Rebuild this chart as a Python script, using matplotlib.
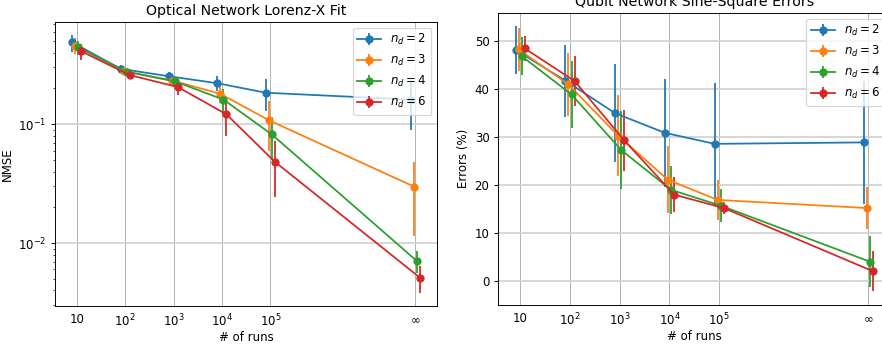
import numpy as np
import matplotlib
matplotlib.use('Agg')
import matplotlib.pyplot as plt

# Nombre de runs (l'infini est placé à 1e8 sur l'axe)
runs = np.array([10, 100, 1000, 1e4, 1e5, 1e8])
tick_labels = ['10', '$10^2$', '$10^3$', '$10^4$', '$10^5$', r'$\infty$']
n_d = [2, 3, 4, 6]

# NMSE - Optical Network Lorenz-X Fit
nmse_nd2 = [0.487, 0.292, 0.253, 0.221, 0.184, 0.161]
nmse_nd3 = [0.458, 0.280, 0.233, 0.180, 0.108, 0.0299]
nmse_nd4 = [0.443, 0.276, 0.229, 0.161, 0.082, 0.00706]
nmse_nd6 = [0.410, 0.259, 0.205, 0.121, 0.0483, 0.00512]
nmse_err_nd2 = [0.08, 0.024, 0.02, 0.032, 0.055, 0.071]
nmse_err_nd3 = [0.07, 0.02, 0.015, 0.03, 0.048, 0.0185]
nmse_err_nd4 = [0.06, 0.02, 0.015, 0.038, 0.032, 0.0015]
nmse_err_nd6 = [0.06, 0.015, 0.03, 0.042, 0.024, 0.0013]

# Erreurs (%) - Qubit Network Sine-Square
err_nd2 = [48.2, 41.8, 35.0, 30.9, 28.6, 28.9]
err_nd3 = [48.3, 41.0, 30.3, 21.1, 16.9, 15.2]
err_nd4 = [46.9, 38.9, 27.3, 19.0, 15.7, 4.0]
err_nd6 = [48.5, 41.7, 29.3, 18.0, 15.2, 2.0]
err_std_nd2 = [5.0, 7.5, 10.2, 11.3, 12.7, 12.9]
err_std_nd3 = [4.4, 6.6, 8.5, 7.0, 4.1, 4.4]
err_std_nd4 = [4.0, 7.0, 8.2, 5.0, 3.5, 5.3]
err_std_nd6 = [2.7, 5.2, 6.4, 3.6, 1.3, 4.2]

nmse = [nmse_nd2, nmse_nd3, nmse_nd4, nmse_nd6]
nmse_err = [nmse_err_nd2, nmse_err_nd3, nmse_err_nd4, nmse_err_nd6]
errs = [err_nd2, err_nd3, err_nd4, err_nd6]
errs_std = [err_std_nd2, err_std_nd3, err_std_nd4, err_std_nd6]

W, H, DPI = 882, 345, 85
fig = plt.figure(figsize=(W / DPI, H / DPI), dpi=DPI)

# Axes placées en pixels (la figure d'origine est recadrée à droite)
ax1 = fig.add_axes([55 / W, (H - 305.7) / H, (437.3 - 55) / W, (305.7 - 21.7) / H])
ax2 = fig.add_axes([497.7 / W, (H - 304.7) / H, (891 - 497.7) / W, (304.7 - 12.7) / H])

# Petit décalage horizontal entre les séries
shifts = 10 ** (0.062 * (np.arange(len(n_d)) - 1.5))


def style_axis(ax):
    ax.set_xscale('log')
    ax.set_xticks(runs)
    ax.set_xticklabels(tick_labels)
    ax.xaxis.set_minor_locator(matplotlib.ticker.NullLocator())
    ax.tick_params(axis='x', length=0, pad=6)
    ax.grid(True, axis='x', color='#b0b0b0', lw=0.8)
    ax.grid(True, axis='y', color='#d3d3d3', lw=1.5)
    ax.set_xlabel('# of runs', labelpad=1.5)
    ax.legend(loc='upper right')


for i, nd in enumerate(n_d):
    ax1.errorbar(runs * shifts[i], nmse[i], yerr=nmse_err[i], fmt='-o', label=f'$n_d = {nd}$')
    ax2.errorbar(runs * shifts[i], errs[i], yerr=errs_std[i], fmt='-o', label=f'$n_d = {nd}$')

ax1.set_yscale('log')
ax1.set_ylabel('NMSE')
ax1.set_title('Optical Network Lorenz-X Fit')
style_axis(ax1)

ax2.set_ylabel('Errors (%)')
ax2.set_title('Qubit Network Sine-Square Errors')
style_axis(ax2)

plt.savefig('out.png', dpi=DPI)
